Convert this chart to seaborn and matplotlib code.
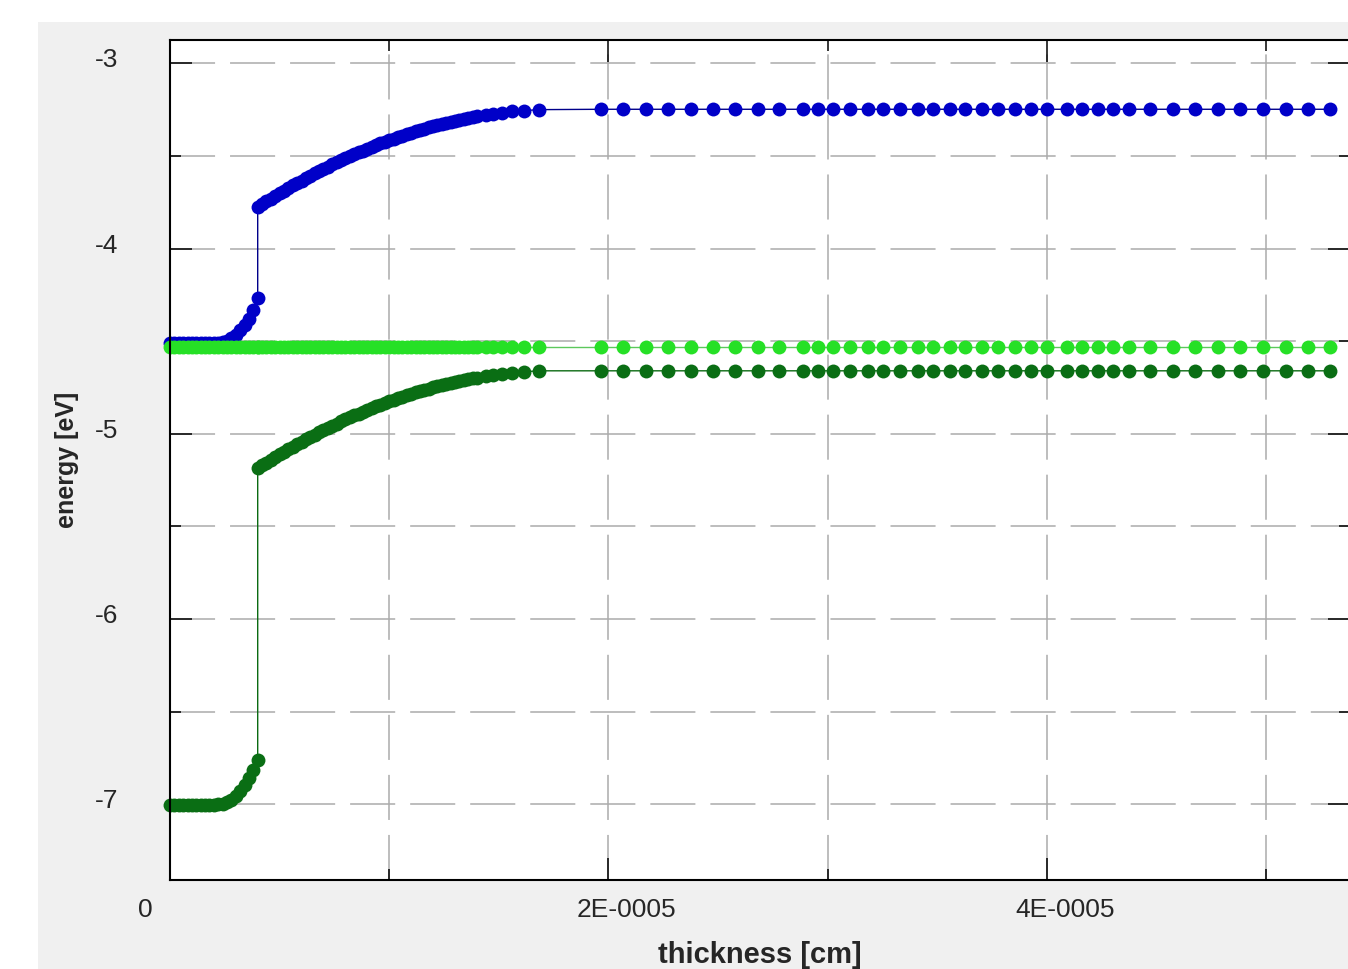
import numpy as np
import matplotlib
matplotlib.use("Agg")
import matplotlib.pyplot as plt
import seaborn as sns
from matplotlib.ticker import FixedLocator, FixedFormatter
from matplotlib.transforms import ScaledTranslation
from matplotlib.patches import Rectangle

# Mesh positions along the stack, in units of 1e-5 cm
thickness_e5 = [
    0.00, 0.02, 0.04, 0.06, 0.08, 0.10, 0.12, 0.14, 0.16, 0.18, 0.20,
    0.22, 0.24, 0.26, 0.28, 0.30, 0.32, 0.34, 0.36, 0.38, 0.40,
    0.40, 0.42, 0.44, 0.46, 0.48, 0.50, 0.52, 0.54, 0.56, 0.58,
    0.60, 0.62, 0.64, 0.66, 0.68, 0.70, 0.72, 0.74, 0.76, 0.78,
    0.80, 0.82, 0.84, 0.86, 0.88, 0.90, 0.92, 0.94, 0.96, 0.98,
    1.00, 1.02, 1.04, 1.06, 1.08, 1.10, 1.12, 1.14, 1.16, 1.18,
    1.20, 1.22, 1.24, 1.26, 1.28, 1.30, 1.32, 1.34, 1.36, 1.38, 1.40,
    1.44, 1.475, 1.515, 1.56, 1.615, 1.685,
    1.966, 2.066, 2.171, 2.271, 2.376, 2.477, 2.577, 2.682, 2.778, 2.887,
    2.956, 3.024, 3.101, 3.184, 3.252, 3.330, 3.412, 3.480, 3.558, 3.626,
    3.704, 3.776, 3.854, 3.927, 4.000, 4.091, 4.160, 4.233, 4.301, 4.374,
    4.470, 4.575, 4.675, 4.780, 4.880, 4.985, 5.090, 5.190, 5.291,
]

# Conduction band edge [eV]
conduction_band = [
    -4.510, -4.510, -4.510, -4.510, -4.510, -4.510, -4.510, -4.510, -4.510, -4.510, -4.510,
    -4.509, -4.506, -4.497, -4.484, -4.465, -4.442, -4.413, -4.378, -4.330, -4.267,
    -3.775, -3.760, -3.745, -3.730, -3.716, -3.701, -3.687, -3.673, -3.659, -3.646,
    -3.633, -3.620, -3.607, -3.594, -3.582, -3.570, -3.558, -3.546, -3.535, -3.523,
    -3.512, -3.502, -3.491, -3.481, -3.471, -3.461, -3.451, -3.442, -3.432, -3.423,
    -3.415, -3.406, -3.398, -3.390, -3.382, -3.374, -3.367, -3.360, -3.353, -3.346,
    -3.339, -3.333, -3.327, -3.321, -3.316, -3.310, -3.305, -3.300, -3.295, -3.291, -3.287,
    -3.279, -3.272, -3.266, -3.260, -3.255, -3.250,
    -3.248, -3.248, -3.248, -3.248, -3.248, -3.248, -3.248, -3.248, -3.248, -3.248,
    -3.248, -3.248, -3.248, -3.248, -3.248, -3.248, -3.248, -3.248, -3.248, -3.248,
    -3.248, -3.248, -3.248, -3.248, -3.248, -3.248, -3.248, -3.248, -3.248, -3.248,
    -3.248, -3.248, -3.248, -3.248, -3.248, -3.248, -3.248, -3.248, -3.248,
]

# Valence band edge [eV]
valence_band = [
    -7.003, -7.003, -7.003, -7.003, -7.003, -7.003, -7.003, -7.003, -7.003, -7.003, -7.002,
    -7.000, -6.997, -6.990, -6.975, -6.955, -6.930, -6.898, -6.860, -6.813, -6.760,
    -5.185, -5.170, -5.155, -5.140, -5.126, -5.111, -5.097, -5.083, -5.069, -5.056,
    -5.043, -5.030, -5.017, -5.004, -4.992, -4.980, -4.968, -4.956, -4.945, -4.933,
    -4.922, -4.912, -4.901, -4.891, -4.881, -4.871, -4.861, -4.852, -4.842, -4.833,
    -4.825, -4.816, -4.808, -4.800, -4.792, -4.784, -4.777, -4.770, -4.763, -4.756,
    -4.749, -4.743, -4.737, -4.731, -4.726, -4.720, -4.715, -4.710, -4.705, -4.701, -4.697,
    -4.689, -4.682, -4.676, -4.670, -4.665, -4.660,
    -4.660, -4.660, -4.660, -4.660, -4.660, -4.660, -4.660, -4.660, -4.660, -4.660,
    -4.660, -4.660, -4.660, -4.660, -4.660, -4.660, -4.660, -4.660, -4.660, -4.660,
    -4.660, -4.660, -4.660, -4.660, -4.660, -4.660, -4.660, -4.660, -4.660, -4.660,
    -4.660, -4.660, -4.660, -4.660, -4.660, -4.660, -4.660, -4.660, -4.660,
]

# Fermi level [eV]
fermi_level = [
    -4.53, -4.53, -4.53, -4.53, -4.53, -4.53, -4.53, -4.53, -4.53, -4.53, -4.53,
    -4.53, -4.53, -4.53, -4.53, -4.53, -4.53, -4.53, -4.53, -4.53, -4.53,
    -4.53, -4.53, -4.53, -4.53, -4.53, -4.53, -4.53, -4.53, -4.53, -4.53,
    -4.53, -4.53, -4.53, -4.53, -4.53, -4.53, -4.53, -4.53, -4.53, -4.53,
    -4.53, -4.53, -4.53, -4.53, -4.53, -4.53, -4.53, -4.53, -4.53, -4.53,
    -4.53, -4.53, -4.53, -4.53, -4.53, -4.53, -4.53, -4.53, -4.53, -4.53,
    -4.53, -4.53, -4.53, -4.53, -4.53, -4.53, -4.53, -4.53, -4.53, -4.53, -4.53,
    -4.53, -4.53, -4.53, -4.53, -4.53, -4.53,
    -4.53, -4.53, -4.53, -4.53, -4.53, -4.53, -4.53, -4.53, -4.53, -4.53,
    -4.53, -4.53, -4.53, -4.53, -4.53, -4.53, -4.53, -4.53, -4.53, -4.53,
    -4.53, -4.53, -4.53, -4.53, -4.53, -4.53, -4.53, -4.53, -4.53, -4.53,
    -4.53, -4.53, -4.53, -4.53, -4.53, -4.53, -4.53, -4.53, -4.53,
]

x_major = [0.0, 2e-5, 4e-5]
x_major_labels = ["0", "2E-0005", "4E-0005"]
x_minor = [1e-5, 3e-5, 5e-5]
y_major = [-3, -4, -5, -6, -7]
y_major_labels = ["-3", "-4", "-5", "-6", "-7"]
y_minor = [-3.5, -4.5, -5.5, -6.5]

sns.set_style("white")
plt.rcParams["font.family"] = ["Liberation Sans", "DejaVu Sans"]

W, H = 1348, 969
fig = plt.figure(figsize=(W / 100, H / 100), dpi=100)
fig.patch.set_facecolor("white")
fig.add_artist(Rectangle((38 / W, 0), 1, 1 - 22 / H, transform=fig.transFigure,
                         facecolor="#f0f0f0", edgecolor="none", zorder=-5))

ax = fig.add_axes([170 / W, 89 / H, 1180 / W, 840 / H])
ax.set_facecolor("white")

thickness = np.asarray(thickness_e5) * 1e-5
common = dict(ax=ax, estimator=None, sort=False, marker="o", markersize=10,
              markeredgewidth=0, linewidth=1.0, clip_on=False)

sns.lineplot(x=thickness, y=conduction_band, color="#00008a",
             markerfacecolor="#0000c8", markeredgecolor="#0000c8", **common)
sns.lineplot(x=thickness, y=valence_band, color="#0b6a12",
             markerfacecolor="#0a6e14", markeredgecolor="#0a6e14", **common)
sns.lineplot(x=thickness, y=fermi_level, color="#5cc85c",
             markerfacecolor="#26e026", markeredgecolor="#26e026", **common)

ax.set_xlim(0, 5.382e-5)
ax.set_ylim(-7.409, -2.874)

ax.xaxis.set_major_locator(FixedLocator(x_major))
ax.xaxis.set_major_formatter(FixedFormatter(x_major_labels))
ax.xaxis.set_minor_locator(FixedLocator(x_minor))
ax.yaxis.set_major_locator(FixedLocator(y_major))
ax.yaxis.set_major_formatter(FixedFormatter(y_major_labels))
ax.yaxis.set_minor_locator(FixedLocator(y_minor))

ax.tick_params(which="both", direction="in", top=True, right=True,
               bottom=True, left=True, color="black", width=1.1,
               labelsize=19, labelcolor="#262626")
ax.tick_params(which="major", length=16)
ax.tick_params(which="minor", length=8)
ax.tick_params(axis="x", which="major", pad=13)
ax.tick_params(axis="y", which="major", pad=37)

ax.grid(True, which="both", color="#ababab", linewidth=1.1,
        linestyle=(0, (29.5, 9.8)))

for side in ["left", "bottom", "top", "right"]:
    ax.spines[side].set_color("black")
    ax.spines[side].set_linewidth(1.5)

ax.set_xlabel("thickness [cm]", fontsize=21, fontweight="bold",
              color="#262626", va="center")
ax.set_ylabel("energy [eV]", fontsize=18, fontweight="bold",
              color="#262626", va="center")
ax.xaxis.set_label_coords(0.5, -75 / 840)
ax.yaxis.set_label_coords(-103 / 1180, 0.5)

# Tick labels: x labels start left of their tick, y labels sit slightly high
x_shift = ScaledTranslation(-32 / 100, 0, fig.dpi_scale_trans)
for lbl in ax.get_xticklabels():
    lbl.set_horizontalalignment("left")
    lbl.set_transform(lbl.get_transform() + x_shift)
y_shift = ScaledTranslation(0, 5.5 / 100, fig.dpi_scale_trans)
for lbl in ax.get_yticklabels():
    lbl.set_transform(lbl.get_transform() + y_shift)

fig.savefig("out.png", dpi=100)
